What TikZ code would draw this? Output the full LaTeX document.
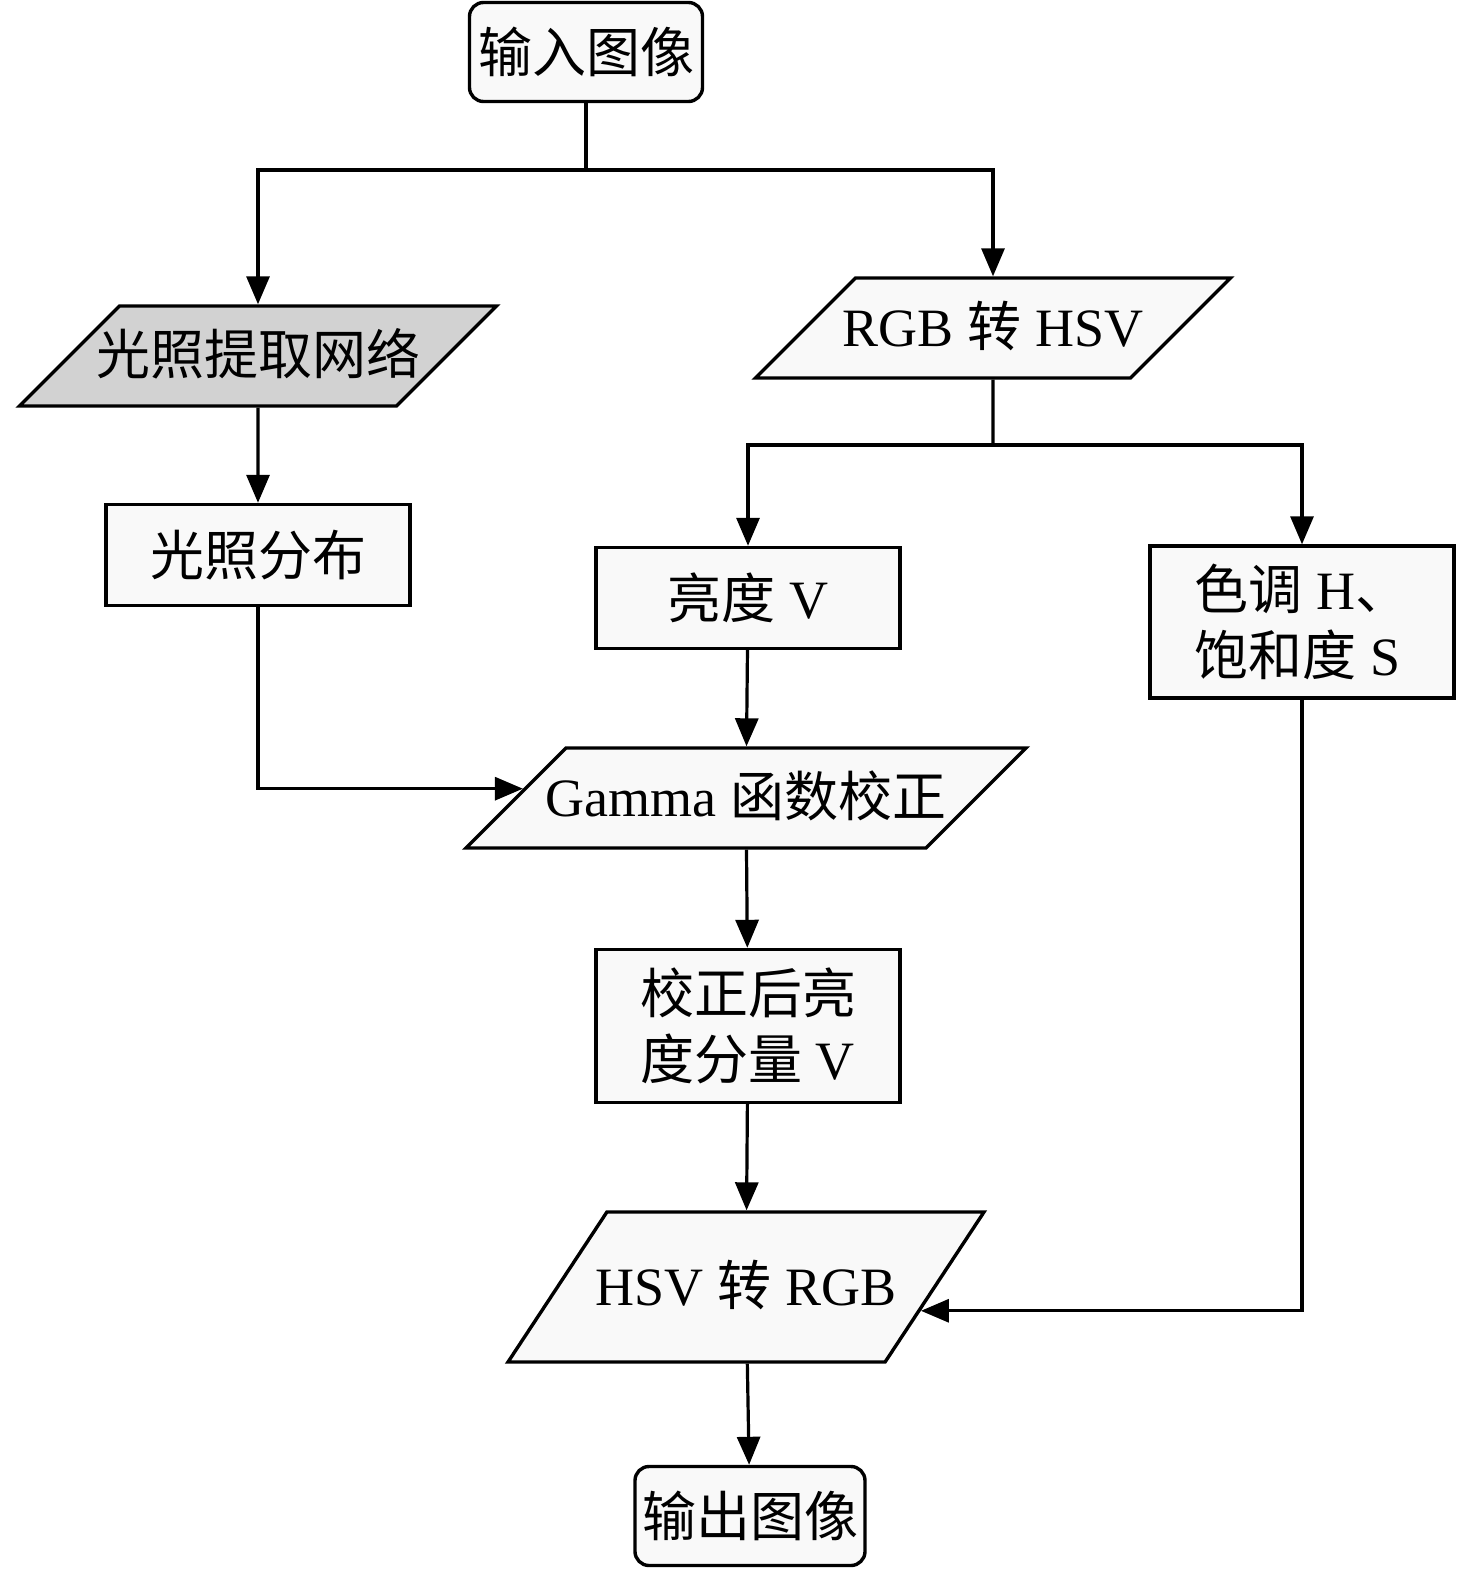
\documentclass[tikz,border=0pt]{standalone}
\usepackage{fontspec}
\setmainfont{Liberation Serif}
\newfontfamily\cjk{Noto Sans CJK SC}
\usepackage{tikz}
\usetikzlibrary{shapes.geometric,arrows.meta,calc}

\begin{document}
\begin{tikzpicture}[x=0.5pt,y=-0.5pt,
    every node/.style={font=\fontsize{27pt}{33pt}\selectfont},
    roundbox/.style={draw,line width=1.7pt,rounded corners=7pt,fill=gray!5,inner sep=0pt},
    box/.style={draw,line width=1.7pt,fill=gray!5,inner sep=0pt,minimum width=152pt},
    para/.style={trapezium,trapezium left angle=45,trapezium right angle=135,
        trapezium stretches body,draw,line width=1.7pt,fill=gray!5,inner xsep=-40pt,
        text height=20pt,text depth=2pt,inner ysep=14pt},
    flow/.style={line width=1.6pt,-{Triangle[length=14pt,width=11.5pt]}},
    link/.style={line width=1.6pt}]
            \useasboundingbox (0,0) rectangle (1476,1574);
            \node[roundbox,minimum width=116.5pt,minimum height=49.5pt] (in) at (586,52) {\cjk 输入图像};
            \node[para,fill=gray!35,minimum width=238.5pt] (net) at (258,356) {\cjk 光照提取网络};
            \node[box,minimum height=50.5pt] (dist) at (258,555) {\cjk 光照分布};
            \node[para,minimum width=237.5pt] (rgb) at (993,328) {RGB {\cjk 转} HSV};
            \node[box,minimum height=50.5pt] (bright) at (748,598) {{\cjk 亮度} V};
            \node[box,minimum height=76pt,align=left] (hs) at (1302,622) {{\cjk 色调} H{\cjk 、}\\{\cjk 饱和度} S};
            \node[para,minimum width=280pt] (gamma) at (746,798) {Gamma {\cjk 函数校正}};
            \node[box,minimum height=76.5pt,align=left] (corr) at (748,1026) {{\cjk 校正后亮}\\{\cjk 度分量} V};
            \node[para,trapezium left angle=56.6,trapezium right angle=123.4,
                inner ysep=26.5pt,minimum width=238pt] (hsv) at (746,1287) {HSV {\cjk 转} RGB};
            \node[roundbox,minimum width=115pt,minimum height=49.5pt] (out) at (750,1516) {\cjk 输出图像};
            \coordinate (split1) at (586,170);
            \coordinate (split2) at (993,445);
            \coordinate (gammain) at ($(gamma.west)!0.18!(gamma.top left corner)$);
            \coordinate (hsvin) at ($(hsv.east)!0.31!(hsv.bottom right corner)$);
            \draw[link] (in) -- (split1);
            \draw[flow] (split1) -| (net);
            \draw[flow] (split1) -| (rgb);
            \draw[flow] (net) -- (dist);
            \draw[flow] (dist) |- (gammain);
            \draw[link] (rgb) -- (split2);
            \draw[flow] (split2) -| (bright);
            \draw[flow] (split2) -| (hs);
            \draw[flow] (bright) -- (gamma);
            \draw[flow] (gamma) -- (corr);
            \draw[flow] (corr) -- (hsv);
            \draw[flow] (hs) |- (hsvin);
            \draw[flow] (hsv) -- (out);
        \end{tikzpicture}
\end{document}
